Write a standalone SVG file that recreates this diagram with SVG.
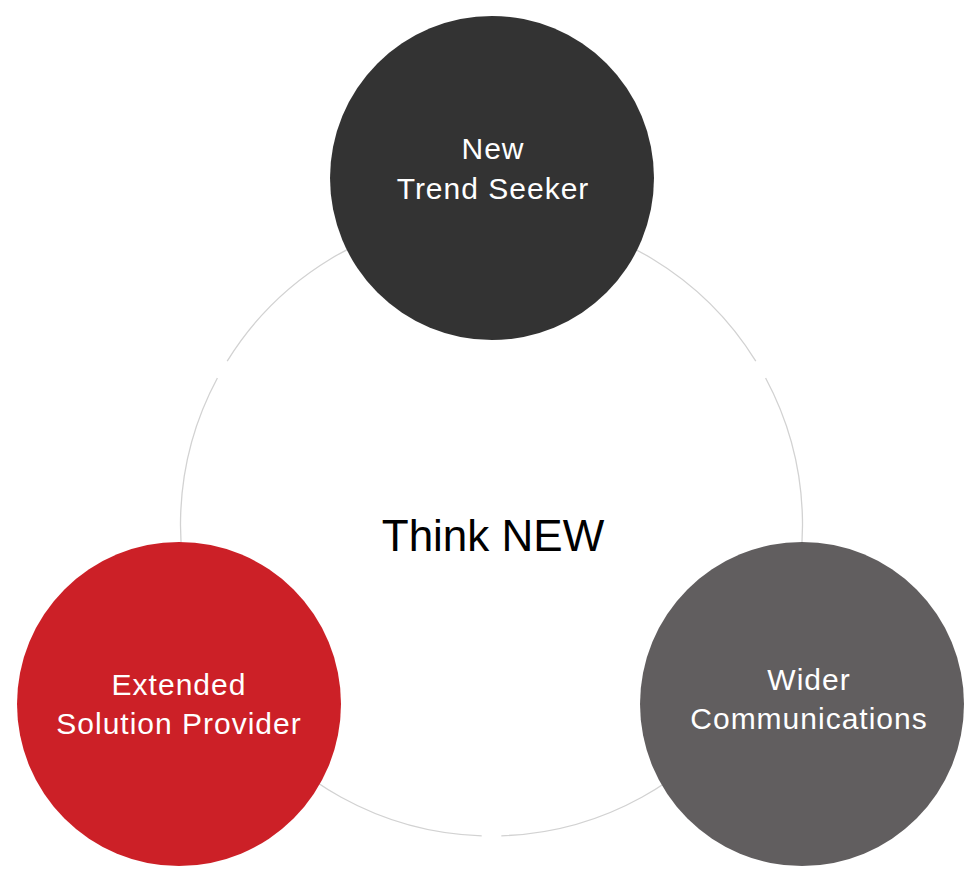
<svg xmlns="http://www.w3.org/2000/svg" width="980" height="880" viewBox="0 0 980 880">
<style>
.ring{fill:none;stroke:#d2d2d2;stroke-width:1.3}
.lbl{font-family:"Liberation Sans",Arial,sans-serif;font-size:30px;fill:#ffffff;text-anchor:middle;letter-spacing:1px}
.center{font-family:"Liberation Sans",Arial,sans-serif;font-size:44px;fill:#000000;text-anchor:middle}
</style>
<rect width="980" height="880" fill="#ffffff"/>
<g id="connectors">
<path class="ring" d="M765.6,378 A311,311 0 0 1 501.3,835.8"/>
<path class="ring" d="M481.7,835.8 A311,311 0 0 1 217.4,378"/>
<path class="ring" d="M227.2,361.1 A311,311 0 0 1 755.8,361.1"/>
</g>
<g id="center-label">
<text class="center" x="493" y="551">Think NEW</text>
</g>
<g id="node-trend">
<circle cx="492" cy="178" r="162" fill="#333333"/>
<text class="lbl" x="493" y="159">New</text>
<text class="lbl" x="493" y="199">Trend Seeker</text>
</g>
<g id="node-solution">
<circle cx="179" cy="704" r="162" fill="#cc2027"/>
<text class="lbl" x="179" y="695">Extended</text>
<text class="lbl" x="179" y="734">Solution Provider</text>
</g>
<g id="node-communications">
<circle cx="802" cy="704" r="162" fill="#615e5f"/>
<text class="lbl" x="809" y="690">Wider</text>
<text class="lbl" x="809" y="729">Communications</text>
</g>
</svg>
